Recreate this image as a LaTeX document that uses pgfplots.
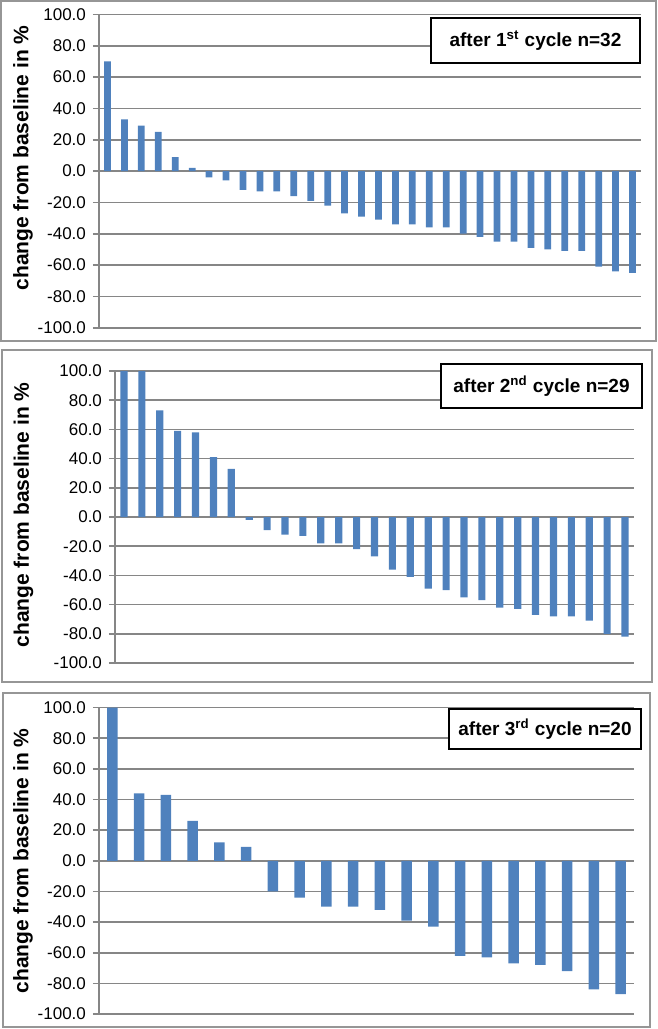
\documentclass[border=0pt]{standalone}
\usepackage{pgfplots}
\pgfplotsset{compat=1.18}
\usepackage{fontspec}
\setmainfont{Liberation Sans}
\definecolor{barblue}{RGB}{79,129,189}
\definecolor{gridgray}{RGB}{134,134,134}
\definecolor{framegray}{RGB}{150,150,150}
\pgfplotsset{
  panel/.style={
    scale only axis,
    anchor=north west,
    ymin=-100,ymax=100,
    ytick={-100,-80,...,100},
    axis x line=none,
    axis y line*=left,
    y axis line style={gridgray,line width=0.8pt},
    ymajorgrids,
    grid style={gridgray,line width=0.8pt},
    tick style={gridgray,line width=0.8pt},
    tick align=outside,
    major tick length=3pt,
    yticklabel style={font=\fontsize{8.5}{9}\selectfont,
      /pgf/number format/fixed,/pgf/number format/zerofill,
      /pgf/number format/precision=1,
      /pgf/number format/assume math mode=true},
    clip=false,
  },
  bars/.style={ybar,fill=barblue,draw=none,bar width=0.4},
}
\newcommand{\ylab}{\fontsize{10.5}{12}\selectfont\bfseries change from baseline in \%}
\begin{document}
\begin{tikzpicture}
\path[use as bounding box] (0,0) rectangle (329pt,-514.5pt);
% frames
\draw[framegray,line width=0.75pt] (0.5pt,-0.5pt) rectangle (328pt,-170.5pt);
\draw[framegray,line width=0.75pt] (1pt,-175pt) rectangle (326pt,-341pt);
\draw[framegray,line width=0.75pt] (1.5pt,-346.5pt) rectangle (325pt,-513.5pt);

% panel 1
\begin{axis}[panel,at={(49.5pt,-7.25pt)},width=271pt,height=156.6pt,xmin=0.5,xmax=32.5]
\addplot[bars] coordinates {
(1,70) (2,33) (3,29) (4,25) (5,9) (6,2) (7,-4) (8,-6) (9,-12) (10,-13)
(11,-13) (12,-16) (13,-19) (14,-22) (15,-27) (16,-29) (17,-31) (18,-34) (19,-34) (20,-36)
(21,-36) (22,-40) (23,-42) (24,-45) (25,-45) (26,-49) (27,-50) (28,-51) (29,-51) (30,-61)
(31,-64) (32,-65)};
\end{axis}

% panel 2
\begin{axis}[panel,at={(57.5pt,-185.5pt)},width=259.5pt,height=146pt,xmin=0.5,xmax=29.5]
\addplot[bars] coordinates {
(1,100) (2,100) (3,73) (4,59) (5,58) (6,41) (7,33) (8,-2) (9,-9) (10,-12)
(11,-13) (12,-18) (13,-18) (14,-22) (15,-27) (16,-36) (17,-41) (18,-49) (19,-50) (20,-55)
(21,-57) (22,-62) (23,-63) (24,-67) (25,-68) (26,-68) (27,-71) (28,-80) (29,-82)};
\end{axis}

% panel 3
\begin{axis}[panel,at={(49.5pt,-353.75pt)},width=267.5pt,height=153.25pt,xmin=0.5,xmax=20.5]
\addplot[bars] coordinates {
(1,100) (2,44) (3,43) (4,26) (5,12) (6,9) (7,-20) (8,-24) (9,-30) (10,-30)
(11,-32) (12,-39) (13,-43) (14,-62) (15,-63) (16,-67) (17,-68) (18,-72) (19,-84) (20,-87)};
\end{axis}

% y labels
\node[rotate=90] at (11.5pt,-79pt) {\ylab};
\node[rotate=90] at (11.75pt,-257.5pt) {\ylab};
\node[rotate=90] at (11.5pt,-430.5pt) {\ylab};

% caption boxes
\node[draw=black,line width=0.7pt,fill=white,minimum width=104.5pt,minimum height=22.5pt,inner sep=0pt,
  font=\fontsize{9.5}{11}\selectfont\bfseries] at (267.75pt,-20.25pt) {after 1\textsuperscript{st} cycle n=32};
\node[draw=black,line width=0.7pt,fill=white,minimum width=100.5pt,minimum height=22pt,inner sep=0pt,
  font=\fontsize{9.5}{11}\selectfont\bfseries] at (270.75pt,-193pt) {after 2\textsuperscript{nd} cycle n=29};
\node[draw=black,line width=0.7pt,fill=white,minimum width=96pt,minimum height=20pt,inner sep=0pt,
  font=\fontsize{9.5}{11}\selectfont\bfseries] at (272.5pt,-364.5pt) {after 3\textsuperscript{rd} cycle n=20};
\end{tikzpicture}
\end{document}
